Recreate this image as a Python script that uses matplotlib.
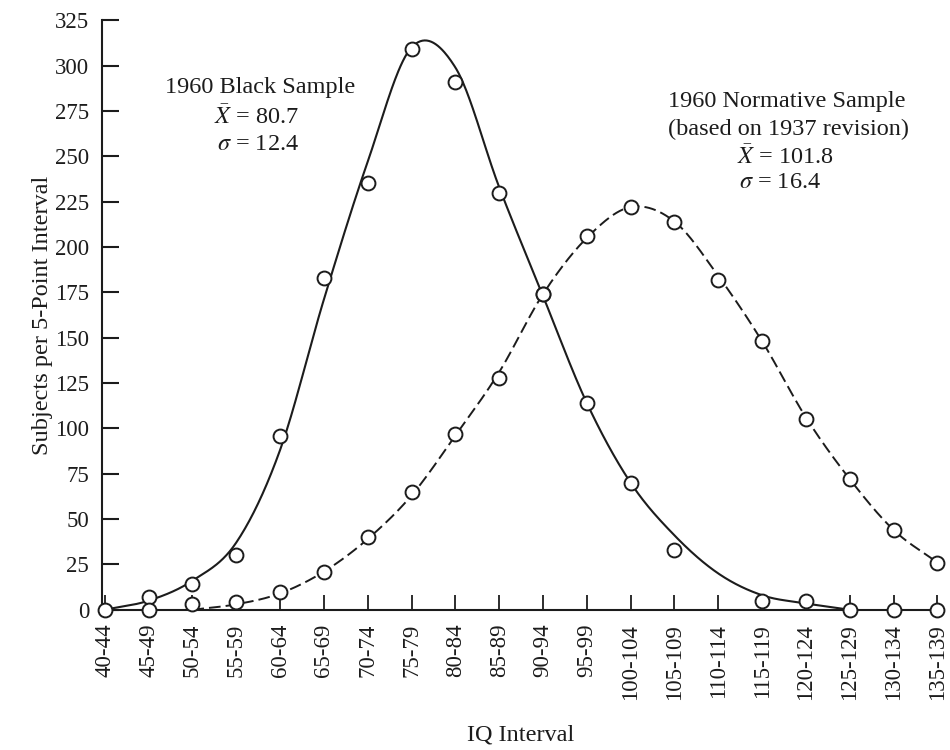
import numpy as np
import matplotlib
matplotlib.use("Agg")
import matplotlib.pyplot as plt

# ---------------- data ----------------
categories = ["40-44", "45-49", "50-54", "55-59", "60-64", "65-69", "70-74",
              "75-79", "80-84", "85-89", "90-94", "95-99", "100-104",
              "105-109", "110-114", "115-119", "120-124", "125-129",
              "130-134", "135-139"]

# observed points (None = no point plotted)
black_points = [0, 7, 14, 30, 96, 183, 235, 309, 291, 230, 174, 114, 70,
                33, None, 5, 5, 0, 0, 0]
norm_points = [None, 0, 3, 4, 10, 21, 40, 65, 97, 128, 174, 206, 222,
               214, 182, 148, 105, 72, 44, 26]

# smooth fitted curves at each category
black_curve = [0, 5, 16, 37, 88, 171, 247, 310, 299, 233, 173, 114, 70,
               41, 20, 8, 3.5, 0]
norm_curve = [None, None, 0, 3, 9, 21, 39, 63, 96, 131, 174, 205, 222,
              214, 184, 148, 106, 72, 44, 26]

y_ticks = [0, 25, 50, 75, 100, 125, 150, 175, 200, 225, 250, 275, 300, 325]

black_title = "1960 Black Sample"
black_mean = r"$\bar{X}$ = 80.7"
black_sd = r"$\sigma$ = 12.4"
norm_title = "1960 Normative Sample"
norm_sub = "(based on 1937 revision)"
norm_mean = r"$\bar{X}$ = 101.8"
norm_sd = r"$\sigma$ = 16.4"

# ---------------- style ----------------
plt.rcParams["font.family"] = ["Liberation Serif", "DejaVu Serif"]
plt.rcParams["mathtext.fontset"] = "stix"
INK = "#1c1c1c"
FS_TICK = 16.5
FS_TEXT = 17.5


def catmull_rom(xs, ys, n=40):
    xs = np.asarray(xs, float)
    ys = np.asarray(ys, float)
    m = np.zeros_like(ys)
    m[1:-1] = (ys[2:] - ys[:-2]) / (xs[2:] - xs[:-2])
    m[0] = (ys[1] - ys[0]) / (xs[1] - xs[0])
    m[-1] = (ys[-1] - ys[-2]) / (xs[-1] - xs[-2])
    out_x, out_y = [], []
    for i in range(len(xs) - 1):
        h = xs[i + 1] - xs[i]
        t = np.linspace(0, 1, n, endpoint=(i == len(xs) - 2))
        h00 = 2 * t**3 - 3 * t**2 + 1
        h10 = t**3 - 2 * t**2 + t
        h01 = -2 * t**3 + 3 * t**2
        h11 = t**3 - t**2
        out_x.append(xs[i] + t * h)
        out_y.append(h00 * ys[i] + h10 * h * m[i] + h01 * ys[i + 1] + h11 * h * m[i + 1])
    return np.concatenate(out_x), np.concatenate(out_y)


def valid(vals):
    idx = [i for i, v in enumerate(vals) if v is not None]
    return idx, [vals[i] for i in idx]


fig = plt.figure(figsize=(9.5, 7.5), dpi=100)
fig.patch.set_facecolor("white")
ax = fig.add_axes([0.107, 0.187, 0.883, 0.786])

x_pos = np.arange(len(categories))

# curves
bx, by = valid(black_curve)
cx, cy = catmull_rom(bx, by)
ax.plot(cx, cy, color=INK, lw=1.5, solid_capstyle="round", zorder=2, clip_on=False)

nx, ny = valid(norm_curve)
cx2, cy2 = catmull_rom(nx, ny)
ax.plot(cx2, cy2, color=INK, lw=1.4, ls=(0, (6, 2.6)), zorder=2, clip_on=False)

# points
px, py = valid(black_points)
ax.plot(px, py, ls="none", marker="o", ms=10, mfc="white", mec=INK, mew=1.4,
        zorder=4, clip_on=False)
qx, qy = valid(norm_points)
ax.plot(qx, qy, ls="none", marker="o", ms=10, mfc="white", mec=INK, mew=1.4,
        zorder=4, clip_on=False)

# axes
ax.set_xlim(-0.07, 19.07)
ax.set_ylim(0, 325)
ax.set_xticks(x_pos)
ax.set_xticklabels(categories, rotation=90, fontsize=FS_TICK, color=INK)
ax.set_yticks(y_ticks)
ax.set_yticklabels([str(v) for v in y_ticks], fontsize=FS_TICK, color=INK)
ax.tick_params(axis="y", direction="in", length=12, width=1.5, pad=9, colors=INK)
ax.tick_params(axis="x", direction="in", length=11, width=1.3, pad=10, colors=INK)
for s in ["top", "right"]:
    ax.spines[s].set_visible(False)
for s in ["left", "bottom"]:
    ax.spines[s].set_linewidth(1.5)
    ax.spines[s].set_color(INK)

ax.set_xlabel("IQ Interval", fontsize=FS_TEXT, color=INK)
ax.xaxis.set_label_coords(0.5, -0.212)
ax.xaxis.label.set_va("center")
ax.set_ylabel("Subjects per 5-Point Interval", fontsize=FS_TEXT, color=INK)
ax.yaxis.set_label_coords(-0.07, 0.5)
ax.yaxis.label.set_va("center")

# annotations
def ftext(px_x, px_y, s):
    fig.text(px_x / 950, 1 - px_y / 750, s, ha="center", va="center",
             fontsize=FS_TEXT, color=INK)

ftext(260, 88, black_title)
ftext(257, 117, black_mean)
ftext(258, 144, black_sd)
ftext(787, 101, norm_title)
ftext(788, 129, norm_sub)
ftext(785, 157, norm_mean)
ftext(780, 183, norm_sd)

fig.savefig("out.png", dpi=100, facecolor="white")
